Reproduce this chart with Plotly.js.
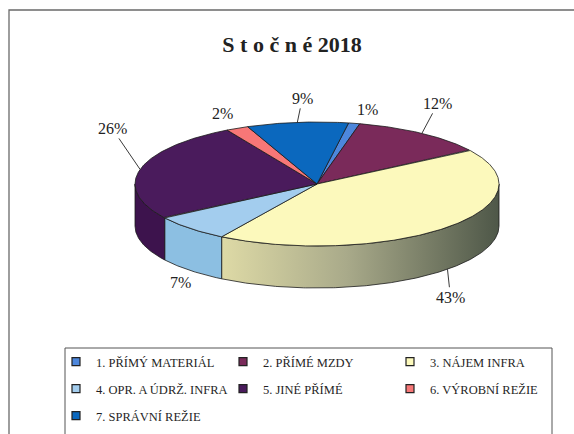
<!DOCTYPE html>
<html>
<head>
<meta charset="utf-8">
<script src="https://cdn.plot.ly/plotly-3.0.1.min.js"></script>
<style>html,body{margin:0;padding:0;background:#fff}#chart{width:574px;height:434px}</style>
</head>
<body>
<div id="chart"></div>
<script>
// ---- data ----
const categories = ['1. PŘÍMÝ MATERIÁL', '2. PŘÍMÉ MZDY', '3. NÁJEM INFRA', '4. OPR. A ÚDRŽ. INFRA', '5. JINÉ PŘÍMÉ', '6. VÝROBNÍ REŽIE', '7. SPRÁVNÍ REŽIE'];
const values = [1, 12, 43, 7, 26, 2, 9];
const chartTitle = 'S t o č n é 2018';

// ---- styles ----
const topColors = ['#4d87dc', '#7a2a5a', '#fcf9bc', '#a3cdee', '#4a1b5c', '#f77777', '#0b68be'];
const sideColors = ['#3f70b8', '#5e1f45', null, '#8cbfe2', '#3d134d', '#d85f5f', '#0a579e'];
const yellowSideScale = [[0, '#dedaa6'], [0.45, '#a9aa8a'], [1, '#4e5748']];
const legendRows = [[0, 1, 2], [3, 4, 5], [6]];
const labelOffsets = [[13, -14, false], [16, -30, true], [3, 28, true], [-10, 12, false], [-28, -41, true], [-15, -15, false], [5, -24, true]];

// ---- geometry of the 3D-look pie (pixel space) ----
const CX = 317, CY = 184, RX = 182, RY = 62, DEPTH = 42, START = 10;
const rad = d => d * Math.PI / 180;
function pt(deg, dz) { return [CX + RX * Math.sin(rad(deg)), CY - RY * Math.cos(rad(deg)) + (dz || 0)]; }
function arc(a0, a1, dz) {
  const xs = [], ys = [];
  const n = Math.max(2, Math.ceil(Math.abs(a1 - a0) / 0.5));
  for (let i = 0; i <= n; i++) { const p = pt(a0 + (a1 - a0) * i / n, dz); xs.push(p[0]); ys.push(p[1]); }
  return [xs, ys];
}

const total = values.reduce((s, v) => s + v, 0);
const bounds = [];
let acc = START;
values.forEach(v => { const a0 = acc; acc += v / total * 360; bounds.push([a0, acc]); });

const sideTraces = [], topTraces = [], legendTraces = [];
values.forEach((v, i) => {
  const [a0, a1] = bounds[i];
  const s0 = Math.max(a0, 90), s1 = Math.min(a1, 270);
  if (s1 > s0) {
    const top = arc(s0, s1, 0), bot = arc(s1, s0, DEPTH);
    const tr = {
      type: 'scatter', mode: 'lines', x: top[0].concat(bot[0], [top[0][0]]), y: top[1].concat(bot[1], [top[1][0]]),
      fill: 'toself', line: {color: '#1a1a1a', width: 0.8}, hoverinfo: 'skip', showlegend: false
    };
    if (sideColors[i]) tr.fillcolor = sideColors[i];
    else tr.fillgradient = {type: 'horizontal', colorscale: yellowSideScale};
    sideTraces.push(tr);
  }
  const t = arc(a0, a1, 0);
  topTraces.push({
    type: 'scatter', mode: 'lines', x: [CX].concat(t[0], [CX]), y: [CY].concat(t[1], [CY]),
    fill: 'toself', fillcolor: topColors[i], line: {color: '#1a1a1a', width: 0.8},
    name: categories[i], hoverinfo: 'name', showlegend: false
  });
});

const legendNames = ['legend', 'legend2', 'legend3'];
legendRows.forEach((row, r) => {
  row.forEach(i => {
    legendTraces.push({
      type: 'scatter', mode: 'markers', x: [null], y: [null], name: categories[i],
      legend: legendNames[r],
      marker: {symbol: 'square', size: 8, color: topColors[i], line: {color: '#222', width: 1.2}}
    });
  });
});

const annotations = values.map((v, i) => {
  const [a0, a1] = bounds[i];
  const mid = (a0 + a1) / 2;
  const m = ((mid % 360) + 360) % 360;
  const front = m > 90 && m < 270;
  const p = pt(mid, front ? DEPTH : 0);
  const o = labelOffsets[i];
  return {
    x: p[0], y: p[1], xref: 'x', yref: 'y', text: Math.round(v / total * 100) + '%',
    showarrow: true, arrowhead: 0, arrowwidth: 0.9, standoff: 0,
    arrowcolor: o[2] ? '#222' : 'rgba(0,0,0,0)', ax: o[0], ay: o[1],
    font: {family: 'Liberation Serif, Times New Roman, serif', size: 16, color: '#222'}
  };
});

const legendBase = {
  orientation: 'h', xanchor: 'left', yanchor: 'middle', x: 56 / 574,
  entrywidth: 122, entrywidthmode: 'pixels', bgcolor: 'rgba(0,0,0,0)', borderwidth: 0,
  font: {family: 'Liberation Serif, Times New Roman, serif', size: 12.5, color: '#1f1f1f'}, itemclick: false
};
const rowY = [362, 389, 416];

const layout = {
  width: 574, height: 434, margin: {l: 0, r: 0, t: 0, b: 0},
  paper_bgcolor: '#fff', plot_bgcolor: '#fff',
  xaxis: {range: [0, 574], visible: false, fixedrange: true},
  yaxis: {range: [434, 0], visible: false, fixedrange: true},
  title: {text: chartTitle, x: 292 / 574, xanchor: 'center', y: 1 - 44 / 434, yanchor: 'middle',
    font: {family: 'Liberation Serif, Times New Roman, serif', size: 22, weight: 'bold', color: '#222'}},
  legend: Object.assign({}, legendBase, {y: 1 - rowY[0] / 434}),
  legend2: Object.assign({}, legendBase, {y: 1 - rowY[1] / 434}),
  legend3: Object.assign({}, legendBase, {y: 1 - rowY[2] / 434}),
  shapes: [
    {type: 'rect', xref: 'x', yref: 'y', x0: 9, x1: 600, y0: 10, y1: 460, line: {color: '#6a6a6a', width: 1.3}, layer: 'below'},
    {type: 'rect', xref: 'x', yref: 'y', x0: 65, x1: 552, y0: 348, y1: 460, line: {color: '#555', width: 1}, layer: 'below'}
  ],
  annotations: annotations,
  showlegend: true
};

Plotly.newPlot('chart', sideTraces.concat(topTraces, legendTraces), layout, {displayModeBar: false, staticPlot: true});
</script>
</body>
</html>
